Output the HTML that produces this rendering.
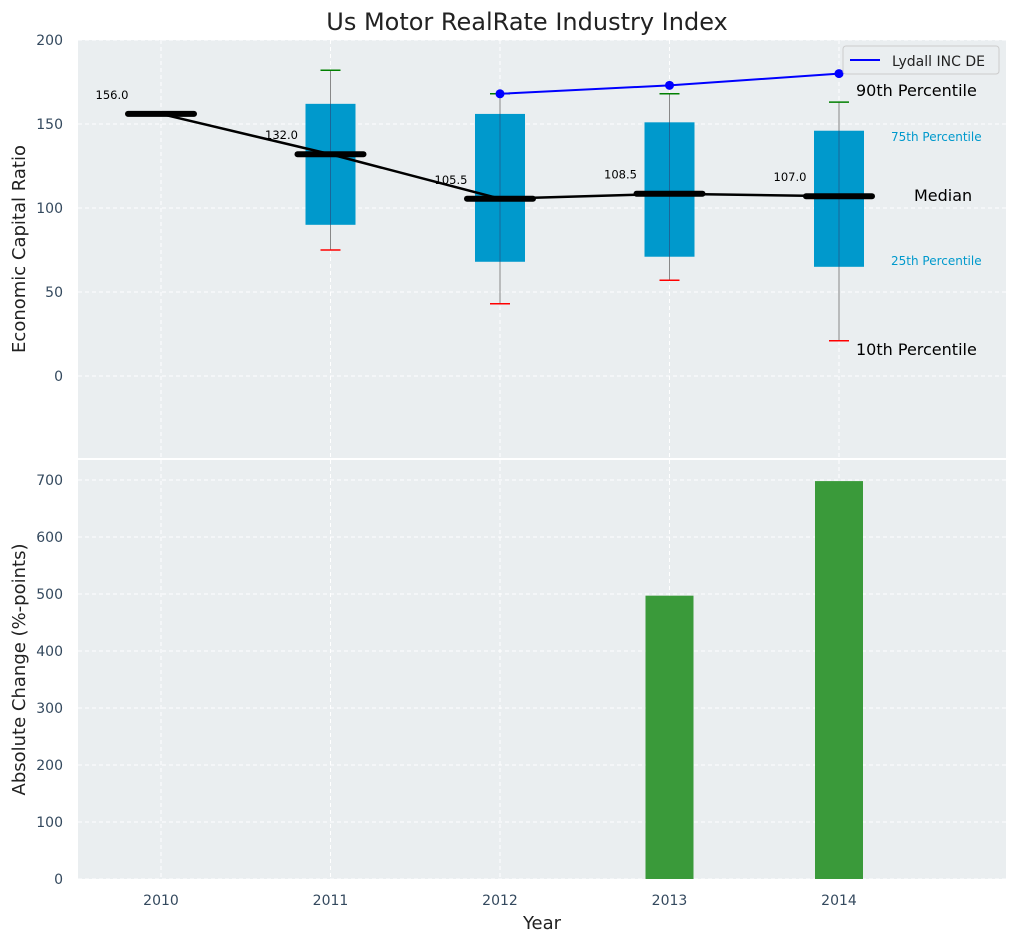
<!DOCTYPE html>
<html><head><meta charset="utf-8"><style>
body{margin:0;background:#fff;font-family:"Liberation Sans","DejaVu Sans",sans-serif;}
svg text{font-family:"DejaVu Sans","Liberation Sans",sans-serif;}
</style></head><body>
<svg id="chart" width="1016" height="942" xmlns="http://www.w3.org/2000/svg"></svg>
<script>
const years=[2010,2011,2012,2013,2014];
const medians=[156,132,105.5,108.5,107];
const q1=[null,90,68,71,65];
const q3=[null,162,156,151,146];
const p10=[null,75,43,57,21];
const p90=[null,182,168,168,163];
const compYears=[2012,2013,2014];
const compVals=[168,173,180];
const barYears=[2013,2014];
const barVals=[497,698];
const topTicks=[0,50,100,150,200];
const botTicks=[0,100,200,300,400,500,600,700];

const svg=document.getElementById('chart');
const NS='http://www.w3.org/2000/svg';
function el(t,a,p){const e=document.createElementNS(NS,t);for(const k in a)e.setAttribute(k,a[k]);(p||svg).appendChild(e);return e;}
const L=78,R=1006;
const xs=v=>161+(v-2010)*169.5;
const T0=40,T1=458,yt=v=>T0+(200-v)/(200-(-48.8))*(T1-T0);
const B0=460,B1=879,yb=v=>B1-v/735*(B1-B0);

el('rect',{x:0,y:0,width:1016,height:942,fill:'#fff'});
let t=el('text',{x:527,y:30,'font-size':24,'text-anchor':'middle',fill:'#222'});t.textContent='Us Motor RealRate Industry Index';



let g=el('g',{});
el('rect',{x:L,y:T0,width:R-L,height:T1-T0,fill:'#eaeef0'},g);
topTicks.forEach(v=>{el('line',{x1:L,x2:R,y1:yt(v),y2:yt(v),stroke:'#fff','stroke-dasharray':'4,3'},g);
 const tx=el('text',{x:L-15,y:yt(v)+5,'font-size':14,'text-anchor':'end',fill:'#34495e'},g);tx.textContent=v;
 });
years.forEach(y=>el('line',{x1:xs(y),x2:xs(y),y1:T0,y2:T1,stroke:'#fff','stroke-dasharray':'4,3'},g));
const yc=(T0+T1)/2;
const yl=el('text',{x:25,y:yc,'font-size':18,'text-anchor':'middle',fill:'#222',transform:`rotate(-90 25 ${yc})`},g);yl.textContent='Economic Capital Ratio';


years.forEach((y,i)=>{
 if(q1[i]==null)return;
 const x=xs(y);
 el('line',{x1:x,x2:x,y1:yt(p10[i]),y2:yt(p90[i]),stroke:'#888','stroke-width':1},g);
 const b=el('rect',{x:x-25,y:yt(q3[i]),width:50,height:yt(q1[i])-yt(q3[i]),fill:'#0099cc'},g);
 
 el('line',{x1:x,x2:x,y1:yt(q3[i]),y2:yt(q1[i]),stroke:'#336',"stroke-opacity":0.5,'stroke-width':1},g);
 el('line',{x1:x-10,x2:x+10,y1:yt(p90[i]),y2:yt(p90[i]),stroke:'green','stroke-width':1.5},g);
 el('line',{x1:x-10,x2:x+10,y1:yt(p10[i]),y2:yt(p10[i]),stroke:'red','stroke-width':1.5},g);
});
el('polyline',{points:years.map((y,i)=>xs(y)+','+yt(medians[i])).join(' '),fill:'none',stroke:'#000','stroke-width':2.5},g);
years.forEach((y,i)=>{
 const m=el('line',{x1:xs(y)-33,x2:xs(y)+33,y1:yt(medians[i]),y2:yt(medians[i]),stroke:'#000','stroke-width':6,'stroke-linecap':'round'},g);
 
 const tx=el('text',{x:xs(y)-49,y:yt(medians[i])-15,'font-size':11.5,'text-anchor':'middle',fill:'#000'},g);tx.textContent=medians[i].toFixed(1);
});
el('polyline',{points:compYears.map((y,i)=>xs(y)+','+yt(compVals[i])).join(' '),fill:'none',stroke:'blue','stroke-width':2},g);
compYears.forEach((y,i)=>{const c=el('circle',{cx:xs(y),cy:yt(compVals[i]),r:4.5,fill:'blue'},g);
 });
[['90th Percentile',856,96,16,'#000'],['75th Percentile',891,141,12,'#0099cc'],['Median',914,201,16,'#000'],['25th Percentile',891,265,12,'#0099cc'],['10th Percentile',856,355,16,'#000']].forEach(a=>{
 const tx=el('text',{x:a[1],y:a[2],'font-size':a[3],fill:a[4]},g);tx.textContent=a[0];
 });
const lg=el('g',{},g);
el('rect',{x:843,y:46,width:156,height:28,fill:'#eaeef0',stroke:'#ccc',rx:3},lg);
el('line',{x1:850,x2:880,y1:60,y2:60,stroke:'blue','stroke-width':2},lg);
const lt=el('text',{x:892,y:66,'font-size':14,fill:'#222'},lg);lt.textContent='Lydall INC DE';

let g2=el('g',{});
el('rect',{x:L,y:B0,width:R-L,height:B1-B0,fill:'#eaeef0'},g2);
botTicks.forEach(v=>{el('line',{x1:L,x2:R,y1:yb(v),y2:yb(v),stroke:'#fff','stroke-dasharray':'4,3'},g2);
 const tx=el('text',{x:L-15,y:yb(v)+5,'font-size':14,'text-anchor':'end',fill:'#34495e'},g2);tx.textContent=v;
 });
years.forEach(y=>{el('line',{x1:xs(y),x2:xs(y),y1:B0,y2:B1,stroke:'#fff','stroke-dasharray':'4,3'},g2);
 const tx=el('text',{x:xs(y),y:905,'font-size':14,'text-anchor':'middle',fill:'#34495e'},g2);tx.textContent=y;
 });
barYears.forEach((y,i)=>{const b=el('rect',{x:xs(y)-24,y:yb(barVals[i]),width:48,height:B1-yb(barVals[i]),fill:'#3a9a3a'},g2);
 });
const yl2=el('text',{x:25,y:(B0+B1)/2,'font-size':18,'text-anchor':'middle',fill:'#222',transform:`rotate(-90 25 ${(B0+B1)/2})`},g2);yl2.textContent='Absolute Change (%-points)';

const xt=el('text',{x:542,y:929,'font-size':18,'text-anchor':'middle',fill:'#222'},g2);xt.textContent='Year';

</script>
</body></html>
